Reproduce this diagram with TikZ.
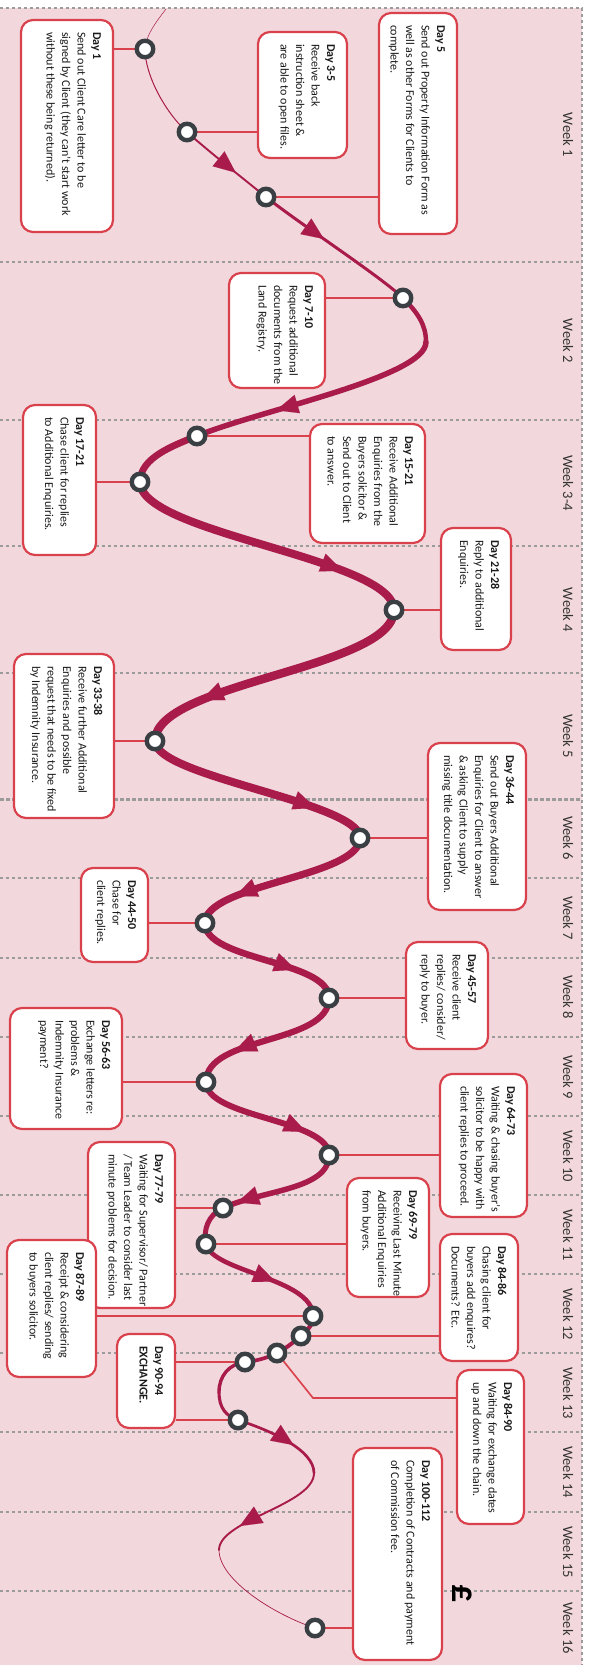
\documentclass[tikz,border=0pt]{standalone}
\usepackage{fontspec}
\setmainfont{Carlito}
\usetikzlibrary{arrows.meta,decorations.markings}
\definecolor{pinkbg}{HTML}{F2D8DC}
\definecolor{curvecol}{HTML}{A81B4A}
\definecolor{circcol}{HTML}{3A3F44}
\definecolor{boxred}{HTML}{D9424D}
\definecolor{dashgray}{HTML}{9B9B9B}
\definecolor{txt}{HTML}{1A1A1A}
\pgfdeclarelayer{bg}\pgfdeclarelayer{lines}\pgfdeclarelayer{curvelayer}
\pgfsetlayers{bg,lines,curvelayer,main}
\tikzset{
  daybox/.style={rotate=-90, draw=boxred, line width=2.2pt, fill=white, rounded corners=12pt,
    inner xsep=12pt, inner ysep=9pt, font={\fontsize{12}{15.5}\selectfont}, text=txt},
  stopdot/.style={circle, draw=circcol, line width=4.4pt, fill=white, minimum size=16.5pt, inner sep=0pt},
  conn/.style={draw=boxred, line width=1.7pt},
  weeklabel/.style={rotate=-90, font={\fontsize{14.5}{16}\selectfont}, text=black!80},
  weekrule/.style={dashgray, line width=1.3pt, dash pattern=on 3pt off 3pt},
  crv/.style={draw=curvecol, line width=#1, line cap=round},
  marr/.style={postaction={decorate}, decoration={markings, mark=at position #1 with
    {\arrow{Triangle[length=22pt,width=19pt,line width=0.01pt]}}}},
}
\newcommand{\daybox}[6]{%
  \pgfmathsetmacro{\dbcx}{(#2+#4)/2}%
  \pgfmathsetmacro{\dbcy}{(#3+#5)/2}%
  \pgfmathsetmacro{\dbw}{#4-#2-18}%
  \pgfmathsetmacro{\dbh}{#5-#3-24}%
  \node[daybox] (#1) at (\dbcx,\dbcy)
    {\parbox[t][\dbw pt][t]{\dbh pt}{\begin{tabular}[t]{@{}l@{}}#6\end{tabular}}};%
}
\begin{document}
\begin{tikzpicture}[x=1pt,y=-1pt]
\useasboundingbox (0,0) rectangle (590,1665);
\begin{pgfonlayer}{bg}
  \fill[pinkbg] (0,8) rectangle (582,1665);
  \draw[weekrule] (0,8) -- (582,8) -- (582,1665);
  \foreach \yy in {262,420,546,673,878,958,1037,1116,1195,1274,1353,1432,1512,1591}
    \draw[weekrule] (0,\yy) -- (582,\yy);
  \draw[dashgray, line width=3pt, dash pattern=on 3.5pt off 2.5pt] (0,799) -- (582,799);
\end{pgfonlayer}

% week labels
\node[weeklabel] (w1) at (568,135) {Week 1};
\node[weeklabel] (w2) at (568,341) {Week 2};
\node[weeklabel] (w3) at (568,483) {Week 3-4};
\node[weeklabel] (w4) at (568,610) {Week 4};
\node[weeklabel] (w5) at (568,736) {Week 5};
\node[weeklabel] (w6) at (568,838) {Week 6};
\node[weeklabel] (w7) at (568,918) {Week 7};
\node[weeklabel] (w8) at (568,997) {Week 8};
\node[weeklabel] (w9) at (568,1077) {Week 9};
\node[weeklabel] (w10) at (568,1156) {Week 10};
\node[weeklabel] (w11) at (568,1235) {Week 11};
\node[weeklabel] (w12) at (568,1314) {Week 12};
\node[weeklabel] (w13) at (568,1393) {Week 13};
\node[weeklabel] (w14) at (568,1472) {Week 14};
\node[weeklabel] (w15) at (568,1552) {Week 15};
\node[weeklabel] (w16) at (568,1628) {Week 16};
\node[rotate=-90, inner sep=0pt, font={\fontsize{36}{38}\selectfont\bfseries}] (pound) at (462,1594) {£};

% boxes
\daybox{d1}{21}{20}{113}{232}{\textbf{Day 1}\\Send out Client Care letter to be\\signed by Client (they can’t start work\\without these being returned).}
\daybox{d35}{258}{32}{347}{158}{\textbf{Day 3-5}\\Receive back\\instruction sheet \&\\are able to open files.}
\daybox{d5}{379}{13}{457}{234}{\textbf{Day 5}\\Send out Property Information Form as\\well as other Forms for Clients to\\complete.}
\daybox{d710}{229}{273}{325}{388}{\textbf{Day 7-10}\\Request additional\\documents from the\\Land Registry.}
\daybox{d1521}{310}{424}{425}{543}{\textbf{Day 15-21}\\Receive Additional\\Enquiries from the\\Buyers solicitor \&\\Send out to Client\\to answer.}
\daybox{d1721}{23}{405}{96}{555}{\textbf{Day 17-21}\\Chase client for replies\\to Additional Enquiries.}
\daybox{d2128}{441}{528}{511}{650}{\textbf{Day 21-28}\\Reply to additional\\Enquiries.}
\daybox{d3338}{14}{654}{114}{818}{\textbf{Day 33-38}\\Receive further Additional\\Enquiries and possible\\request that needs to be fixed\\by Indemnity Insurance.}
\daybox{d3644}{428}{743}{526}{910}{\textbf{Day 36-44}\\Send out Buyers Additional\\Enquiries for Client to answer\\\& asking Client to supply\\missing title documentation.}
\daybox{d4450}{81}{868}{148}{962}{\textbf{Day 44-50}\\Chase for\\client replies.}
\daybox{d4557}{406}{942}{488}{1049}{\textbf{Day 45-57}\\Receive client\\replies/ consider/\\reply to buyer.}
\daybox{d5663}{10}{1008}{122}{1129}{\textbf{Day 56-63}\\Exchange letters re:\\problems \&\\Indemnity Insurance\\payment?}
\daybox{d6473}{440}{1074}{527}{1217}{\textbf{Day 64-73}\\Waiting \& chasing buyer’s\\solicitor to be happy with\\client replies to proceed.}
\daybox{d6979}{347}{1178}{429}{1297}{\textbf{Day 69-79}\\Receiving Last Minute\\Additional Enquiries\\from buyers.}
\daybox{d7779}{88}{1142}{175}{1308}{\textbf{Day 77-79}\\Waiting for Supervisor/ Partner\\/ Team Leader to consider last\\minute problems for decision.}
\daybox{d8789}{7}{1240}{96}{1377}{\textbf{Day 87-89}\\Receipt \& considering\\client replies/ sending\\to buyers solicitor.}
\daybox{d8486}{440}{1234}{518}{1361}{\textbf{Day 84-86}\\Chasing client for\\buyers add enquires?\\Documents? Etc.}
\daybox{d9094}{117}{1334}{175}{1428}{\textbf{Day 90-94}\\\textbf{EXCHANGE.}}
\daybox{d8490}{457}{1370}{524}{1524}{\textbf{Day 84-90}\\Waiting for exchange dates\\up and down the chain.}
\daybox{d100}{353}{1448}{442}{1660}{\textbf{Day 100-112}\\Completion of Contracts and payment\\of Commission fee.}

% stops
\node[stopdot] (c1) at (145,49) {};
\node[stopdot] (c2) at (187,132) {};
\node[stopdot] (c3) at (266,197) {};
\node[stopdot] (c4) at (403,298) {};
\node[stopdot] (c5) at (197,436) {};
\node[stopdot] (c6) at (140,482) {};
\node[stopdot] (c7) at (394,610) {};
\node[stopdot] (c8) at (155,741) {};
\node[stopdot] (c9) at (360,838) {};
\node[stopdot] (c10) at (205,923) {};
\node[stopdot] (c11) at (329,998) {};
\node[stopdot] (c12) at (206,1082) {};
\node[stopdot] (c13) at (329,1155) {};
\node[stopdot] (c14) at (223,1208) {};
\node[stopdot] (c15) at (206,1244) {};
\node[stopdot] (c16) at (313,1316) {};
\node[stopdot] (c17) at (301,1336) {};
\node[stopdot] (c18) at (277,1353) {};
\node[stopdot] (c19) at (245,1362) {};
\node[stopdot] (c20) at (238,1420) {};
\node[stopdot] (c21) at (315,1628) {};
\coordinate (s0) at (166,9);
\coordinate (r1) at (426,342);
\coordinate (lm1) at (219,1392);
\coordinate (r2) at (314,1473);
\coordinate (l2) at (219,1550);
\coordinate (k8490) at (313,1398);

% connectors
\begin{pgfonlayer}{lines}
\draw[conn] (c1) -- (c1 -| d1.north);
\draw[conn] (c2) -- (c2 -| d35.south);
\draw[conn] (c3) -- (c3 -| d5.south);
\draw[conn] (c4) -- (c4 -| d710.north);
\draw[conn] (c5) -- (c5 -| d1521.south);
\draw[conn] (c6) -- (c6 -| d1721.north);
\draw[conn] (c7) -- (c7 -| d2128.south);
\draw[conn] (c8) -- (c8 -| d3338.north);
\draw[conn] (c9) -- (c9 -| d3644.south);
\draw[conn] (c10) -- (c10 -| d4450.north);
\draw[conn] (c11) -- (c11 -| d4557.south);
\draw[conn] (c12) -- (c12 -| d5663.north);
\draw[conn] (c13) -- (c13 -| d6473.south);
\draw[conn] (c14) -- (c14 -| d7779.north);
\draw[conn] (c15) -- (c15 -| d6979.south);
\draw[conn] (c16) -- (c16 -| d8789.north);
\draw[conn] (c17) -- (c17 -| d8486.south);
\draw[conn] (c18.center) -- (k8490) -- (k8490 -| d8490.south);
\draw[conn] (c19) -- (c19 -| d9094.north);
\draw[conn] (c20) -- (c20 -| d9094.north);
\draw[conn] (c21) -- (c21 -| d100.south);
\end{pgfonlayer}

% the path
\begin{pgfonlayer}{curvelayer}
\draw[crv=0.5pt] (s0) .. controls (156,22) and (146,35) .. (c1.center);
\draw[crv=1.0pt] (c1.center) .. controls (145,75) and (165,112) .. (c2.center);
\draw[crv=1.9pt, marr=0.62] (c2.center) .. controls (207,150) and (240,176) .. (c3.center);
\draw[crv=3pt, marr=0.42] (c3.center) .. controls (300,224) and (380,276) .. (c4.center);
\draw[crv=4.5pt] (c4.center) .. controls (418,313) and (426,325) .. (r1);
\draw[crv=5.5pt, marr=0.67] (r1) .. controls (426,377) and (260,410) .. (c5.center);
\draw[crv=6.8pt] (c5.center) .. controls (172,446) and (140,458) .. (c6.center);
\draw[crv=8pt, marr=0.77] (c6.center) .. controls (140,534) and (394,558) .. (c7.center);
\draw[crv=8.5pt, marr=0.77] (c7.center) .. controls (394,669) and (155,682) .. (c8.center);
\draw[crv=8pt, marr=0.76] (c8.center) .. controls (155,777) and (360,802) .. (c9.center);
\draw[crv=7.2pt, marr=0.77] (c9.center) .. controls (360,877) and (205,884) .. (c10.center);
\draw[crv=6.6pt, marr=0.7] (c10.center) .. controls (205,961) and (329,960) .. (c11.center);
\draw[crv=6.2pt, marr=0.72] (c11.center) .. controls (329,1045) and (206,1035) .. (c12.center);
\draw[crv=6pt, marr=0.77] (c12.center) .. controls (206,1118) and (329,1119) .. (c13.center);
\draw[crv=5.5pt, marr=0.88] (c13.center) .. controls (329,1190) and (262,1190) .. (c14.center);
\draw[crv=5pt] (c14.center) .. controls (208,1215) and (203,1230) .. (c15.center);
\draw[crv=4.6pt, marr=0.6] (c15.center) .. controls (212,1272) and (313,1278) .. (c16.center);
\draw[crv=4.3pt] (c16.center) .. controls (313,1324) and (308,1330) .. (c17.center);
\draw[crv=4pt] (c17.center) .. controls (294,1342) and (285,1349) .. (c18.center);
\draw[crv=3.7pt] (c18.center) .. controls (267,1358) and (256,1361) .. (c19.center);
\draw[crv=3.4pt] (c19.center) .. controls (229,1364) and (219,1376) .. (lm1);
\draw[crv=3.1pt] (lm1) .. controls (219,1408) and (226,1416) .. (c20.center);
\draw[crv=2.7pt, marr=0.63] (c20.center) .. controls (272,1431) and (314,1450) .. (r2);
\draw[crv=1.9pt, marr=0.74] (r2) .. controls (314,1505) and (219,1520) .. (l2);
\draw[crv=0.7pt] (l2) .. controls (219,1580) and (275,1615) .. (c21.center);
\end{pgfonlayer}
\end{tikzpicture}
\end{document}
